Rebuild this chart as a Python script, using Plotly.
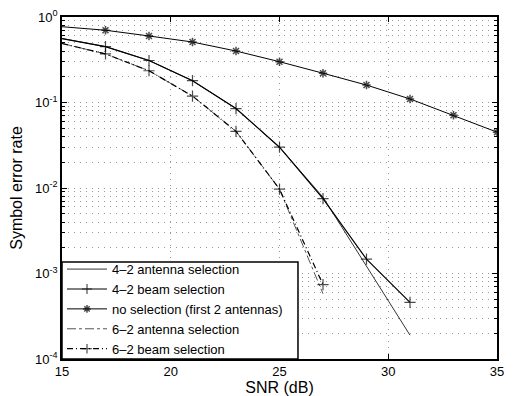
import plotly.graph_objects as go

snr_odd = [15, 17, 19, 21, 23, 25, 27, 29, 31, 33, 35]
no_sel = [0.77, 0.70, 0.60, 0.51, 0.40, 0.30, 0.22, 0.16, 0.11, 0.071, 0.045]

snr_42 = [15, 17, 19, 21, 23, 25, 27, 29, 31]
ant_42 = [0.56, 0.45, 0.31, 0.18, 0.085, 0.030, 0.0078, 0.0012, 0.00019]
beam_42 = [0.56, 0.45, 0.31, 0.18, 0.085, 0.030, 0.0075, 0.00147, 0.00046]

snr_62 = [15, 17, 19, 21, 23, 25, 27]
ant_62 = [0.49, 0.37, 0.235, 0.119, 0.046, 0.0097, 0.00058]
beam_62 = [0.49, 0.37, 0.235, 0.119, 0.046, 0.0097, 0.00074]

y_major = [1e-4, 1e-3, 1e-2, 1e-1, 1]
y_labels = ["10<sup>-4</sup>", "10<sup>-3</sup>", "10<sup>-2</sup>", "10<sup>-1</sup>", "10<sup>0</sup>"]
y_minor = [m * d for d in [1e-4, 1e-3, 1e-2, 1e-1] for m in range(2, 10)]

def msizes(xs, s):
    return [0 if x == 15 else s for x in xs]

fig = go.Figure()
fig.add_trace(go.Scatter(x=snr_42, y=ant_42, mode="lines", name="4–2 antenna selection",
                         line=dict(color="#333", width=1)))
fig.add_trace(go.Scatter(x=snr_42, y=beam_42, mode="lines+markers", name="4–2 beam selection",
                         line=dict(color="black", width=1.2),
                         marker=dict(symbol="cross-thin-open", size=msizes(snr_42, 8),
                                     line=dict(color="black", width=1.2))))
fig.add_trace(go.Scatter(x=snr_odd, y=no_sel, mode="lines+markers", name="no selection (first 2 antennas)",
                         line=dict(color="black", width=1),
                         marker=dict(symbol="asterisk-open", size=msizes(snr_odd, 7),
                                     line=dict(color="black", width=1.5))))
fig.add_trace(go.Scatter(x=snr_62, y=ant_62, mode="lines", name="6–2 antenna selection",
                         line=dict(color="#555", width=1, dash="dashdot")))
fig.add_trace(go.Scatter(x=snr_62, y=beam_62, mode="lines+markers", name="6–2 beam selection",
                         line=dict(color="black", width=1.2, dash="6px,3px,1px,3px"),
                         marker=dict(symbol="cross-thin-open", size=msizes(snr_62, 8),
                                     line=dict(color="black", width=1.2))))

font = dict(family="Liberation Sans, Arial, sans-serif", size=13, color="black")
fig.update_layout(
    width=514, height=396,
    margin=dict(l=62, r=17, t=17, b=37),
    paper_bgcolor="white", plot_bgcolor="white",
    font=font,
    showlegend=True,
    legend=dict(x=0, y=-0.015, xanchor="left", yanchor="bottom",
                bgcolor="rgba(0,0,0,0)", borderwidth=0,
                font=dict(size=13), tracegroupgap=0, itemwidth=40),
    shapes=[dict(type="rect", xref="paper", yref="paper", x0=0, x1=0.5425, y0=0, y1=0.2836,
                 fillcolor="white", line=dict(color="black", width=1.5), layer="above")],
)
fig.update_xaxes(range=[15, 35], tickmode="linear", tick0=15, dtick=5, automargin=False,
                 showgrid=True, gridcolor="#999", griddash="1px,5px", gridwidth=1,
                 ticks="inside", ticklen=5, tickcolor="black", ticklabelstandoff=0,
                 showline=True, linecolor="black", linewidth=1.5, mirror="ticks",
                 zeroline=False, title=dict(text="SNR (dB)", standoff=2))
fig.update_yaxes(type="log", range=[-4, 0], tickmode="array", tickvals=y_major, ticktext=y_labels,
                 automargin=False,
                 showgrid=True, gridcolor="#999", griddash="1px,5px", gridwidth=1,
                 ticks="inside", ticklen=5, tickcolor="black",
                 minor=dict(tickmode="array", tickvals=y_minor, ticks="inside", ticklen=3,
                            tickcolor="black", showgrid=True, gridcolor="#999",
                            griddash="1px,5px", gridwidth=1),
                 showline=True, linecolor="black", linewidth=1.5, mirror="ticks",
                 zeroline=False, title=dict(text="Symbol error rate", standoff=8))

fig.write_html("out.html", config={"displayModeBar": False},
               post_script="document.body.style.margin='0';document.body.style.overflow='hidden';")
